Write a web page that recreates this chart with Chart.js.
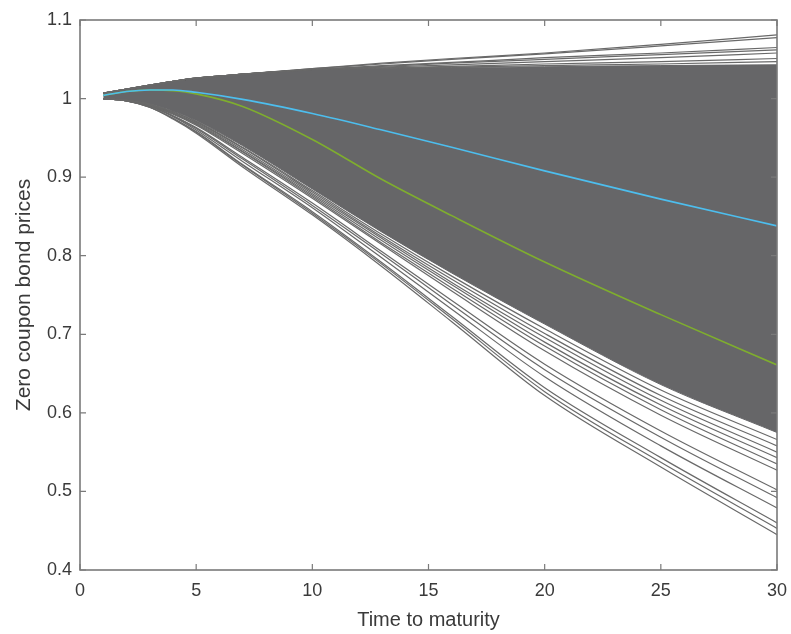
<!DOCTYPE html>
<html>
<head>
<meta charset="utf-8">
<script src="https://cdn.jsdelivr.net/npm/chart.js@4.4.1/dist/chart.umd.min.js"></script>
<style>
  html, body { margin: 0; padding: 0; background: #ffffff; }
  #wrap { width: 791px; height: 634px; }
</style>
</head>
<body>
<div id="wrap"><canvas id="chart" width="791" height="634"></canvas></div>
<script>
// Maturities (years) at which every simulated price path is sampled
const maturities = [1, 2, 3, 4, 5, 7, 10, 13, 16, 20, 25, 30];

// Axis ticks
const xTicks = [0, 5, 10, 15, 20, 25, 30];
const yTicks = [0.4, 0.5, 0.6, 0.7, 0.8, 0.9, 1.0, 1.1];

// Envelope of the dense bundle of simulated paths
const bundleTop    = [1.007, 1.012, 1.017, 1.022, 1.026, 1.031, 1.037, 1.0385, 1.0395, 1.0405, 1.042, 1.043];
const bundleBottom = [1.000, 0.998, 0.993, 0.984, 0.972, 0.940, 0.885, 0.830, 0.778, 0.713, 0.636, 0.575];

// Paths that rise above the bundle
const highPaths = [
  [1.007, 1.012, 1.017, 1.022, 1.026, 1.031, 1.038, 1.045, 1.051, 1.058, 1.069, 1.081],
  [1.007, 1.012, 1.017, 1.022, 1.026, 1.031, 1.038, 1.044, 1.050, 1.057, 1.067, 1.0775],
  [1.007, 1.012, 1.017, 1.022, 1.026, 1.031, 1.037, 1.042, 1.046, 1.052, 1.058, 1.065],
  [1.007, 1.012, 1.017, 1.022, 1.026, 1.031, 1.037, 1.041, 1.045, 1.050, 1.056, 1.062],
  [1.007, 1.012, 1.017, 1.022, 1.026, 1.031, 1.037, 1.040, 1.043, 1.047, 1.052, 1.058],
  [1.007, 1.012, 1.017, 1.022, 1.026, 1.031, 1.037, 1.039, 1.041, 1.044, 1.047, 1.051],
  [1.007, 1.012, 1.017, 1.022, 1.026, 1.031, 1.037, 1.0385, 1.040, 1.042, 1.044, 1.047]
];

// Paths that fall below the bundle
const lowPaths = [
  [1.000, 0.998, 0.993, 0.983, 0.971, 0.938, 0.883, 0.827, 0.774, 0.707, 0.629, 0.566],
  [1.000, 0.998, 0.992, 0.983, 0.970, 0.937, 0.881, 0.824, 0.770, 0.701, 0.622, 0.558],
  [1.000, 0.998, 0.992, 0.982, 0.969, 0.935, 0.879, 0.822, 0.766, 0.696, 0.616, 0.550],
  [1.000, 0.998, 0.992, 0.981, 0.968, 0.933, 0.877, 0.819, 0.763, 0.690, 0.610, 0.543],
  [1.000, 0.998, 0.992, 0.981, 0.967, 0.932, 0.875, 0.816, 0.759, 0.685, 0.604, 0.535],
  [1.000, 0.998, 0.991, 0.980, 0.966, 0.930, 0.873, 0.814, 0.755, 0.679, 0.597, 0.527],
  [1.000, 0.997, 0.991, 0.978, 0.963, 0.925, 0.867, 0.805, 0.743, 0.662, 0.577, 0.502],
  [1.000, 0.997, 0.990, 0.978, 0.962, 0.923, 0.864, 0.802, 0.738, 0.655, 0.569, 0.492],
  [1.000, 0.997, 0.990, 0.977, 0.960, 0.920, 0.861, 0.797, 0.732, 0.646, 0.558, 0.479],
  [1.000, 0.997, 0.989, 0.975, 0.958, 0.916, 0.856, 0.791, 0.723, 0.632, 0.543, 0.460],
  [1.000, 0.997, 0.989, 0.975, 0.957, 0.915, 0.854, 0.789, 0.720, 0.627, 0.537, 0.453],
  [1.000, 0.997, 0.989, 0.974, 0.956, 0.913, 0.852, 0.786, 0.716, 0.622, 0.531, 0.445]
];

// Two highlighted price curves
const bluePath  = [1.004, 1.009, 1.011, 1.011, 1.008, 0.999, 0.981, 0.960, 0.938, 0.908, 0.872, 0.838];
const greenPath = [1.004, 1.009, 1.011, 1.010, 1.006, 0.990, 0.948, 0.897, 0.851, 0.792, 0.725, 0.661];

const BUNDLE_GRAY = 'rgb(102,102,104)';
const PATH_GRAY = 'rgb(105,105,105)';
const AXIS_GRAY = '#7a7a7a';
const TEXT_COLOR = '#3a3a3a';
const FONT = 'Liberation Sans, Arial, sans-serif';

const toPoints = vals => vals.map((v, i) => ({ x: maturities[i], y: v }));

const datasets = [];
datasets.push({ data: toPoints(bluePath), borderColor: '#4DBEEE', borderWidth: 1.6, order: 0 });
datasets.push({ data: toPoints(greenPath), borderColor: '#7FAE2E', borderWidth: 1.6, order: 1 });

highPaths.forEach(p => datasets.push({ data: toPoints(p), borderColor: PATH_GRAY, borderWidth: 1.2, order: 5 }));
lowPaths.forEach(p => datasets.push({ data: toPoints(p), borderColor: PATH_GRAY, borderWidth: 1.2, order: 5 }));

// Solid bundle: the bottom edge is filled up to the top edge
const topIndex = datasets.length;
datasets.push({ data: toPoints(bundleTop), borderColor: BUNDLE_GRAY, borderWidth: 1, order: 8 });
datasets.push({
  data: toPoints(bundleBottom), borderColor: BUNDLE_GRAY, borderWidth: 1, order: 8,
  fill: { target: topIndex }, backgroundColor: BUNDLE_GRAY
});

datasets.forEach(d => {
  d.pointRadius = 0;
  d.cubicInterpolationMode = 'monotone';
  if (!d.fill) d.fill = false;
});

// Box around the plot area with inward-pointing ticks
const boxPlugin = {
  id: 'boxFrame',
  afterDatasetsDraw(chart) {
    const { ctx, chartArea: a, scales: { x, y } } = chart;
    ctx.save();
    ctx.strokeStyle = AXIS_GRAY;
    ctx.lineWidth = 1.6;
    ctx.strokeRect(a.left, a.top, a.right - a.left, a.bottom - a.top);
    ctx.lineWidth = 1.2;
    ctx.beginPath();
    const len = 6;
    xTicks.forEach(t => {
      const px = x.getPixelForValue(t);
      ctx.moveTo(px, a.bottom); ctx.lineTo(px, a.bottom - len);
      ctx.moveTo(px, a.top); ctx.lineTo(px, a.top + len);
    });
    yTicks.forEach(t => {
      const py = y.getPixelForValue(t);
      ctx.moveTo(a.left, py); ctx.lineTo(a.left + len, py);
      ctx.moveTo(a.right, py); ctx.lineTo(a.right - len, py);
    });
    ctx.stroke();
    ctx.restore();
  }
};

new Chart(document.getElementById('chart'), {
  type: 'line',
  data: { datasets },
  options: {
    responsive: false,
    animation: false,
    devicePixelRatio: 1,
    layout: { padding: { top: 20, right: 14, left: 0, bottom: 0 } },
    plugins: { legend: { display: false }, tooltip: { enabled: false } },
    scales: {
      x: {
        type: 'linear', min: 0, max: 30,
        afterBuildTicks: s => { s.ticks = xTicks.map(v => ({ value: v })); },
        afterFit: s => { s.height = 64; s.paddingLeft = 0; s.paddingRight = 0; },
        grid: { display: false, drawTicks: false },
        border: { display: false },
        ticks: { padding: 10, color: TEXT_COLOR, font: { family: FONT, size: 18 } },
        title: {
          display: true, text: 'Time to maturity', color: TEXT_COLOR,
          font: { family: FONT, size: 20 },
          padding: { top: 0, bottom: 2 }
        }
      },
      y: {
        type: 'linear', min: 0.4, max: 1.1,
        afterBuildTicks: s => { s.ticks = yTicks.map(v => ({ value: v })); },
        afterFit: s => { s.width = 80; s.paddingTop = 0; s.paddingBottom = 0; },
        grid: { display: false, drawTicks: false },
        border: { display: false },
        ticks: {
          padding: 8, color: TEXT_COLOR,
          font: { family: FONT, size: 18 },
          callback: v => String(Number(v.toFixed(1)))
        },
        title: {
          display: true, text: 'Zero coupon bond prices', color: TEXT_COLOR,
          font: { family: FONT, size: 21 },
          padding: { top: 12, bottom: 0 }
        }
      }
    }
  },
  plugins: [boxPlugin]
});
</script>
</body>
</html>
